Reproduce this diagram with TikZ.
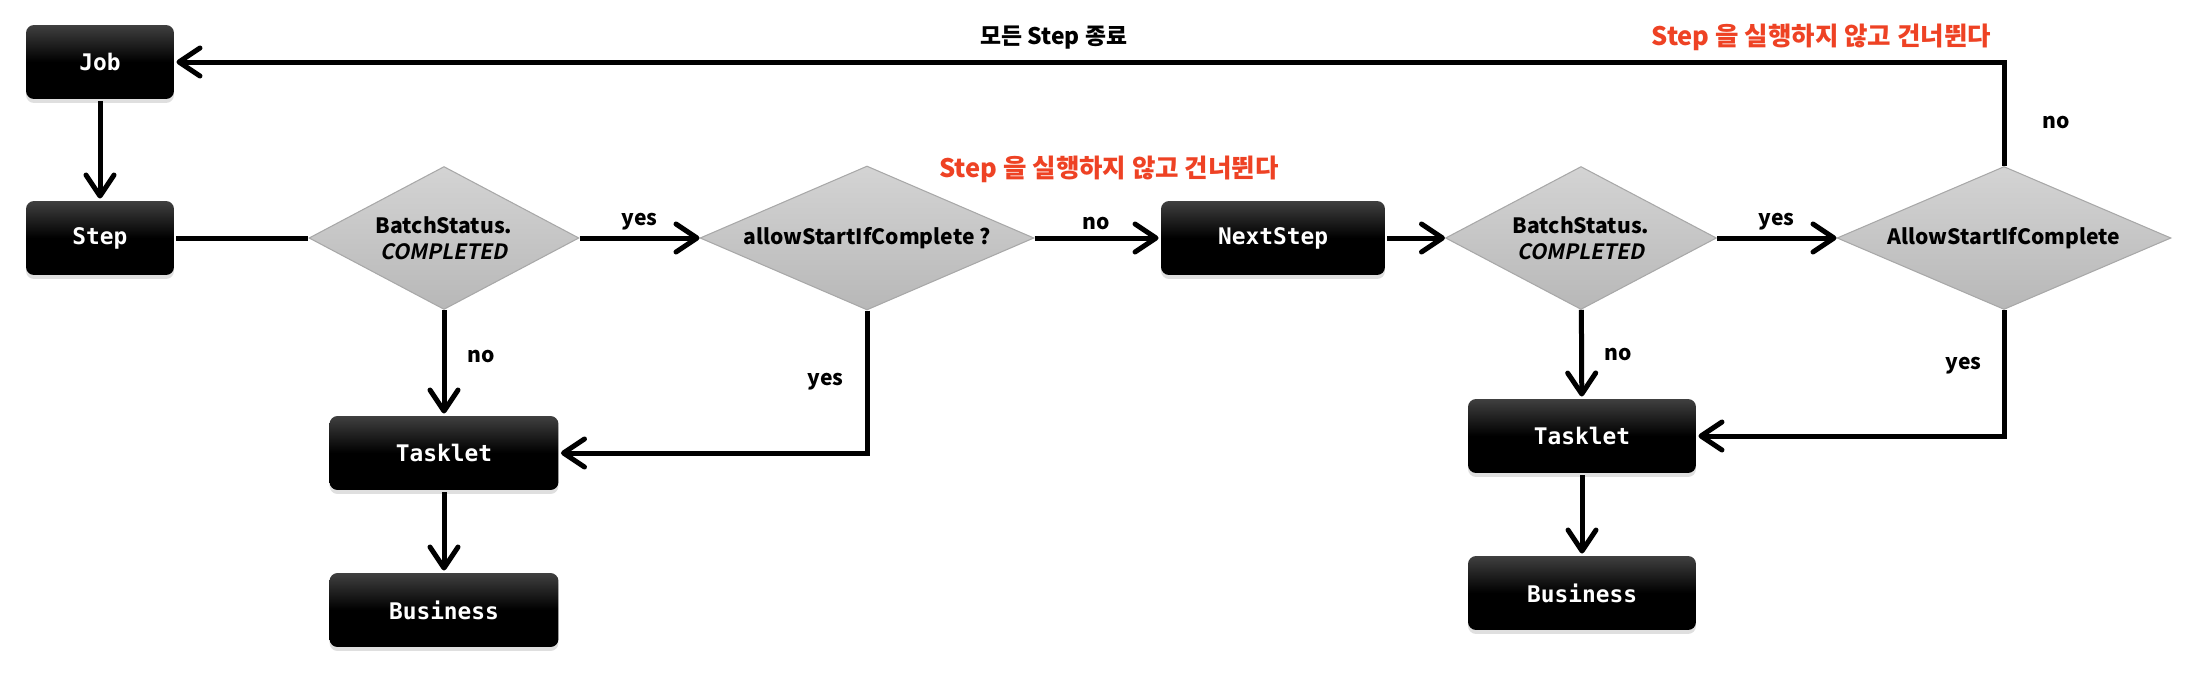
\documentclass[tikz,border=0pt]{standalone}
\usepackage{fontspec}
\setmainfont{Noto Sans CJK KR}[BoldItalicFont={Noto Sans CJK KR Bold},BoldItalicFeatures={FakeSlant=0.2}]
\setmonofont{DejaVu Sans Mono}
\usetikzlibrary{shapes.geometric,arrows.meta,shadows,positioning}
\definecolor{skipred}{RGB}{238,66,36}
\definecolor{edgegray}{RGB}{168,168,168}

\begin{document}
\begin{tikzpicture}[x=0.02cm,y=-0.02cm,line width=0.1cm,
  >={Straight Barb[length=0.42cm 0 0,width=0.56cm 0 0,round]},
  box/.style={rounded corners=0.16cm,top color=black!75,bottom color=black,middle color=black,
    minimum height=1.48cm,text=white,font=\ttfamily\bfseries\fontsize{13}{15}\selectfont,
    drop shadow={shadow xshift=0pt,shadow yshift=-0.08cm,opacity=0.25}},
  check/.style={diamond,draw=edgegray,line width=0.6pt,top color=black!17,bottom color=black!28,
    inner sep=0pt,align=center,font=\bfseries\fontsize{12}{15}\selectfont},
  lab/.style={font=\bfseries\fontsize{12}{14}\selectfont},
  skip/.style={font=\bfseries\fontsize{14.5}{16}\selectfont,text=skipred}]
\useasboundingbox (0,0) rectangle (2198,676);

\node[box,minimum width=2.96cm] (Job) at (100,62) {Job};
\node[box,minimum width=2.96cm] (Step) at (100,238) {Step};
\node[check,aspect=1.89,minimum width=5.4cm,minimum height=2.86cm] (Done-1) at (444,238) {BatchStatus.\\\textit{COMPLETED}};
\node[check,aspect=2.32,minimum width=6.68cm,minimum height=2.88cm] (Allow-1) at (867,238) {allowStartIfComplete ?};
\node[box,minimum width=4.48cm] (NextStep) at (1273,238) {NextStep};
\node[check,aspect=1.89,minimum width=5.42cm,minimum height=2.86cm] (Done-2) at (1581,238) {BatchStatus.\\\textit{COMPLETED}};
\node[check,aspect=2.32,minimum width=6.68cm,minimum height=2.86cm] (Allow-2) at (2004,238) {AllowStartIfComplete};

\node[box,minimum width=4.58cm] (Tasklet-1) at (444,453) {Tasklet};
\node[box,minimum width=4.58cm] (Business-1) at (444,610) {Business};
\node[box,minimum width=4.56cm] (Tasklet-2) at (1582,436) {Tasklet};
\node[box,minimum width=4.56cm] (Business-2) at (1582,593) {Business};

\draw[->] (Job) -- (Step);
\draw (Step) -- (Done-1);
\path[->] (Done-1) edge node[lab,above] {yes} (Allow-1);
\path[->] (Allow-1) edge node[lab,above] (no-1) {no} (NextStep);
\node[skip,above=0.36cm of no-1,xshift=0.25cm] {Step 을 실행하지 않고 건너뛴다};
\path[->] (NextStep) edge (Done-2);
\path[->] (Done-2) edge node[lab,above] {yes} (Allow-2);

\draw[->] (Done-1) -- node[lab,pos=0.45,right=0.3cm] {no} (Tasklet-1);
\draw[->] (Allow-1.south) |- node[lab,pos=0.25,left=0.3cm] {yes} (Tasklet-1.east);
\draw[->] (Tasklet-1) -- (Business-1);
\draw[->] (Done-2) -- node[lab,pos=0.52,right=0.3cm] {no} (Tasklet-2);
\draw[->] (Allow-2.south) |- node[lab,pos=0.22,left=0.28cm] {yes} (Tasklet-2.east);
\draw[->] (Tasklet-2) -- (Business-2);

\draw[->] (Allow-2.north) |- node[lab,pos=0.21,right=0.6cm] {no}
  node[skip,pos=0.55,above=0.06cm] {Step 을 실행하지 않고 건너뛴다}
  node[lab,pos=0.76,above=0.08cm,font=\bfseries\fontsize{13}{15}\selectfont] {모든 Step 종료} (Job.east);
\end{tikzpicture}
\end{document}
